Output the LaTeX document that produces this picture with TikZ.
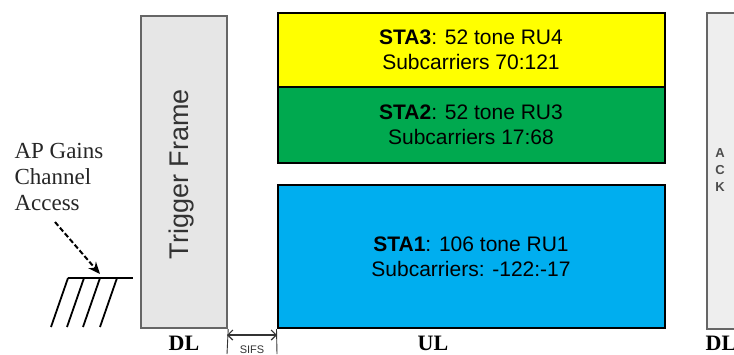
\documentclass[tikz,border=0pt]{standalone}
\usepackage{fontspec}
\setmainfont{Liberation Serif}
\setsansfont{Liberation Sans}
\usetikzlibrary{arrows.meta}

\definecolor{ruyellow}{HTML}{FFFF00}
\definecolor{rugreen}{HTML}{00A94F}
\definecolor{rublue}{HTML}{00AEEF}
\definecolor{frmgray}{HTML}{E6E6E6}
\definecolor{ackgray}{HTML}{EEEEEE}

\tikzset{
  rubox/.style={draw=black, line width=2pt, minimum width=387pt, inner sep=0pt,
    align=center, font=\sffamily\fontsize{21}{25}\selectfont},
  dlbox/.style={draw=black!60, line width=2.4pt, inner sep=0pt},
  lbl/.style={font=\bfseries\fontsize{22}{24}\selectfont},
}

\begin{document}
\begin{tikzpicture}[x=1pt, y=-1pt]
\useasboundingbox (0,0) rectangle (734,354);
% downlink trigger frame
\node[dlbox, fill=frmgray, minimum width=86pt, minimum height=312pt] (trig) at (184,172) {};
\node[rotate=90, text=black!80, font=\sffamily\fontsize{27}{30}\selectfont] (trigtxt) at (182,174) {Trigger Frame};
% uplink resource units
\node[rubox, fill=ruyellow, minimum height=74pt] (sta3) at (471,49.5) {\textbf{STA3}: 52 tone RU4\\Subcarriers 70:121};
\node[rubox, fill=rugreen, minimum height=76pt] (sta2) at (471,124.5) {\textbf{STA2}: 52 tone RU3\\Subcarriers 17:68};
\node[rubox, fill=rublue, minimum height=143pt] (sta1) at (471,256.5) {\textbf{STA1}: 106 tone RU1\\Subcarriers: -122:-17};
% ack
\node[dlbox, fill=ackgray, minimum width=28pt, minimum height=316pt] (ack) at (721,171) {};
\node[text=black!70, font=\sffamily\bfseries\fontsize{13}{17}\selectfont, align=center] (acktxt) at (720,170) {A\\C\\K};
% labels
\node[lbl] (dl1) at (184,343) {DL};
\node[lbl] (ul) at (433,343) {UL};
\node[lbl] (dl2) at (721,343) {DL};
% sifs
\coordinate (s1) at (227,354);
\coordinate (s2) at (277,354);
\draw[black!80, line width=0.9pt] (trig.south east) -- (s1);
\draw[black!80, line width=0.9pt] (sta1.south west) -- (s2);
\coordinate (a1) at (227,335);
\coordinate (a2) at (277,335);
\draw[black!80, line width=1.2pt, {Straight Barb[length=5pt,width=10pt]}-{Straight Barb[length=5pt,width=10pt]}] (a1) -- (a2);
\node[font=\sffamily\fontsize{11}{12}\selectfont, text=black!80] (sifs) at (252,350) {SIFS};
% channel access
\node[anchor=west, align=left, font=\fontsize{23}{26}\selectfont, text=black!85] (ap) at (11,177) {AP Gains\\Channel\\Access};
\coordinate (gnd) at (100,274);
\draw[line width=2pt, dash pattern=on 5pt off 2.5pt, -{Stealth[length=12pt,width=10pt]}] (55,222) -- (gnd);
\draw[line width=1.8pt] (68,278) -- (133,278);
\foreach \x in {68,84,100,117}
  \draw[line width=1.8pt] (\x,278) -- ({\x-17},327);
\end{tikzpicture}
\end{document}
